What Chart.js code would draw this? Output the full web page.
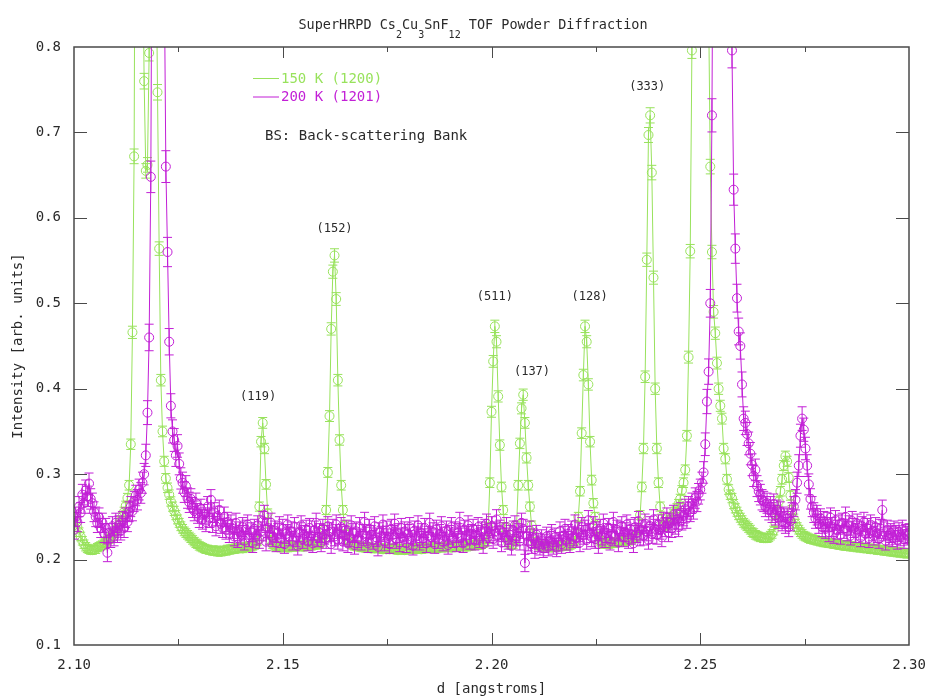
<!DOCTYPE html>
<html><head><meta charset="utf-8">
<script src="https://cdn.jsdelivr.net/npm/chart.js@4.4.1/dist/chart.umd.min.js"></script>
<style>html,body{margin:0;padding:0;background:#fff;overflow:hidden}canvas{display:block}</style>
</head><body>
<canvas id="c" width="927" height="699"></canvas>
<script>
// d-spacing binning of the histogram (angstroms)
const dStart = 2.1;
const dStep = 0.0004;

// 150 K (run 1200) intensities
const int150 = [
0.250,0.245,0.238,0.232,0.227,0.222,0.218,0.215,0.213,0.212,
0.211,0.211,0.212,0.212,0.214,0.215,0.216,0.217,0.219,0.220,
0.222,0.224,0.226,0.228,0.231,0.234,0.237,0.241,0.245,0.250,
0.256,0.263,0.272,0.287,0.335,0.466,0.672,1.25,1.85,1.70,
1.25,0.95,0.76,0.655,0.662,0.793,1.10,1.35,1.20,0.96,
0.747,0.564,0.410,0.350,0.315,0.295,0.284,0.276,0.268,0.262,
0.257,0.252,0.247,0.243,0.239,0.236,0.233,0.231,0.229,0.227,
0.225,0.223,0.221,0.219,0.218,0.216,0.215,0.214,0.213,0.212,
0.212,0.211,0.211,0.210,0.210,0.211,0.209,0.210,0.209,0.210,
0.211,0.210,0.212,0.211,0.212,0.213,0.212,0.213,0.214,0.213,
0.214,0.213,0.215,0.214,0.215,0.216,0.215,0.216,0.217,0.218,
0.222,0.262,0.338,0.360,0.330,0.288,0.254,0.233,0.222,0.218,
0.216,0.215,0.216,0.215,0.214,0.215,0.216,0.215,0.214,0.215,
0.216,0.215,0.216,0.215,0.216,0.217,0.216,0.215,0.216,0.217,
0.216,0.217,0.216,0.217,0.218,0.217,0.218,0.219,0.221,0.225,
0.235,0.258,0.302,0.368,0.470,0.537,0.556,0.505,0.410,0.340,
0.287,0.258,0.240,0.229,0.223,0.220,0.218,0.217,0.216,0.216,
0.215,0.216,0.215,0.214,0.215,0.214,0.215,0.214,0.213,0.214,
0.213,0.214,0.213,0.214,0.213,0.212,0.213,0.212,0.213,0.212,
0.213,0.212,0.213,0.212,0.211,0.212,0.213,0.212,0.211,0.212,
0.212,0.213,0.212,0.213,0.212,0.213,0.214,0.213,0.212,0.213,
0.214,0.213,0.214,0.213,0.214,0.215,0.214,0.213,0.214,0.215,
0.214,0.215,0.214,0.215,0.216,0.215,0.214,0.215,0.216,0.215,
0.216,0.215,0.216,0.217,0.216,0.215,0.216,0.217,0.216,0.217,
0.218,0.217,0.218,0.217,0.218,0.219,0.220,0.224,0.238,0.290,
0.373,0.432,0.473,0.455,0.391,0.334,0.285,0.258,0.238,0.226,
0.220,0.218,0.217,0.218,0.222,0.240,0.287,0.336,0.377,0.393,
0.360,0.319,0.287,0.262,0.240,0.227,0.221,0.218,0.217,0.216,
0.216,0.215,0.216,0.215,0.216,0.215,0.214,0.215,0.216,0.215,
0.216,0.215,0.216,0.217,0.216,0.217,0.216,0.217,0.218,0.219,
0.222,0.230,0.250,0.280,0.348,0.416,0.473,0.455,0.405,0.338,
0.293,0.266,0.250,0.236,0.227,0.222,0.220,0.219,0.218,0.219,
0.218,0.219,0.220,0.219,0.220,0.221,0.220,0.221,0.222,0.221,
0.222,0.223,0.222,0.223,0.224,0.225,0.226,0.228,0.235,0.252,
0.285,0.330,0.414,0.551,0.697,0.720,0.653,0.530,0.400,0.330,
0.290,0.262,0.248,0.240,0.238,0.240,0.243,0.246,0.250,0.253,
0.256,0.260,0.265,0.271,0.281,0.290,0.305,0.345,0.437,0.561,
0.796,1.30,1.90,2.20,2.00,1.60,1.45,1.55,1.70,1.40,
0.85,0.66,0.56,0.49,0.465,0.43,0.40,0.38,0.365,0.33,
0.318,0.294,0.282,0.276,0.272,0.265,0.260,0.256,0.252,0.249,
0.246,0.243,0.241,0.239,0.237,0.235,0.232,0.231,0.229,0.228,
0.227,0.226,0.226,0.225,0.225,0.225,0.226,0.228,0.230,0.234,
0.243,0.256,0.268,0.280,0.294,0.310,0.321,0.315,0.296,0.275,
0.258,0.248,0.242,0.238,0.235,0.232,0.230,0.228,0.227,0.226,
0.225,0.224,0.224,0.223,0.223,0.222,0.222,0.221,0.221,0.220,
0.220,0.220,0.219,0.219,0.219,0.218,0.218,0.218,0.217,0.217,
0.217,0.216,0.216,0.217,0.216,0.215,0.216,0.215,0.215,0.214,
0.215,0.214,0.214,0.213,0.214,0.213,0.213,0.212,0.213,0.212,
0.212,0.211,0.212,0.211,0.211,0.210,0.211,0.210,0.210,0.209,
0.210,0.209,0.209,0.208,0.209,0.208,0.208,0.207,0.208,0.207,
0.207
];

// 200 K (run 1201) intensities
const int200 = [
0.235,0.250,0.244,0.262,0.255,0.276,0.266,0.281,0.274,0.289,
0.271,0.266,0.256,0.250,0.243,0.249,0.237,0.243,0.231,0.237,
0.208,0.231,0.225,0.239,0.227,0.243,0.231,0.240,0.234,0.245,
0.237,0.249,0.244,0.256,0.262,0.257,0.268,0.275,0.270,0.282,
0.278,0.290,0.300,0.322,0.372,0.460,0.648,1.10,1.80,2.30,
2.40,2.10,1.60,1.20,0.90,0.660,0.560,0.455,0.380,0.350,
0.340,0.322,0.333,0.312,0.295,0.290,0.279,0.286,0.272,0.267,
0.271,0.261,0.257,0.266,0.254,0.249,0.259,0.247,0.253,0.244,
0.262,0.249,0.270,0.243,0.255,0.239,0.251,0.258,0.242,0.237,
0.250,0.235,0.244,0.231,0.241,0.236,0.227,0.243,0.225,0.233,
0.229,0.238,0.222,0.235,0.241,0.226,0.232,0.219,0.236,0.228,
0.240,0.224,0.233,0.245,0.252,0.221,0.237,0.229,0.243,0.226,
0.234,0.220,0.231,0.239,0.225,0.236,0.218,0.230,0.241,0.227,
0.233,0.222,0.238,0.226,0.216,0.232,0.240,0.224,0.229,0.235,
0.221,0.237,0.228,0.219,0.234,0.243,0.226,0.231,0.220,0.236,
0.229,0.224,0.239,0.232,0.218,0.236,0.227,0.241,0.223,0.230,
0.238,0.221,0.228,0.235,0.219,0.226,0.240,0.231,0.217,0.233,
0.225,0.238,0.222,0.230,0.244,0.227,0.219,0.236,0.229,0.223,
0.239,0.226,0.215,0.232,0.228,0.241,0.221,0.234,0.225,0.218,
0.236,0.229,0.242,0.224,0.231,0.220,0.237,0.226,0.233,0.219,
0.230,0.238,0.223,0.216,0.234,0.227,0.240,0.222,0.231,0.225,
0.237,0.219,0.228,0.243,0.226,0.232,0.218,0.235,0.224,0.230,
0.239,0.221,0.227,0.234,0.217,0.229,0.238,0.225,0.233,0.220,
0.231,0.244,0.226,0.219,0.235,0.228,0.240,0.223,0.230,0.236,
0.222,0.229,0.238,0.225,0.233,0.218,0.236,0.242,0.227,0.231,
0.239,0.224,0.233,0.247,0.228,0.235,0.220,0.232,0.226,0.238,
0.223,0.229,0.216,0.234,0.240,0.227,0.231,0.222,0.243,0.236,
0.196,0.228,0.221,0.234,0.218,0.225,0.212,0.229,0.220,0.216,
0.224,0.213,0.219,0.227,0.215,0.222,0.230,0.217,0.226,0.214,
0.221,0.233,0.218,0.228,0.236,0.222,0.230,0.219,0.234,0.227,
0.241,0.225,0.232,0.220,0.238,0.229,0.235,0.223,0.246,0.231,
0.226,0.239,0.224,0.233,0.218,0.236,0.228,0.242,0.225,0.231,
0.237,0.222,0.230,0.244,0.227,0.235,0.220,0.233,0.239,0.226,
0.232,0.241,0.224,0.236,0.229,0.219,0.238,0.231,0.245,0.227,
0.235,0.228,0.242,0.233,0.223,0.239,0.230,0.247,0.236,0.229,
0.241,0.235,0.226,0.244,0.238,0.249,0.232,0.243,0.237,0.252,
0.241,0.247,0.238,0.255,0.246,0.251,0.259,0.248,0.262,0.256,
0.266,0.259,0.272,0.268,0.277,0.282,0.290,0.302,0.335,0.385,
0.420,0.500,0.720,1.10,1.70,2.30,2.70,2.80,2.50,2.20,
1.90,1.60,1.30,1.05,0.796,0.633,0.564,0.506,0.467,0.450,
0.405,0.365,0.360,0.347,0.336,0.324,0.311,0.298,0.305,0.286,
0.280,0.276,0.270,0.268,0.262,0.266,0.258,0.262,0.255,0.265,
0.252,0.258,0.248,0.256,0.245,0.250,0.242,0.248,0.238,0.245,
0.255,0.262,0.270,0.290,0.310,0.345,0.365,0.352,0.330,0.310,
0.288,0.271,0.262,0.255,0.248,0.252,0.242,0.248,0.238,0.245,
0.236,0.244,0.232,0.249,0.238,0.230,0.246,0.235,0.241,0.229,
0.243,0.236,0.250,0.233,0.240,0.228,0.245,0.237,0.231,0.242,
0.234,0.226,0.239,0.244,0.230,0.237,0.225,0.241,0.233,0.228,
0.238,0.231,0.224,0.236,0.258,0.233,0.222,0.235,0.228,0.231,
0.226,0.234,0.229,0.223,0.232,0.227,0.235,0.224,0.230,0.228,
0.231
];

// counting-statistics error scale (sigma = k * sqrt(I)) per run
const sigmaK150 = 0.0105;
const sigmaK200 = 0.0229;

// tick values
const xTickValues = [2.10, 2.15, 2.20, 2.25, 2.30];
const yTickValues = [0.1, 0.2, 0.3, 0.4, 0.5, 0.6, 0.7, 0.8];

// Miller-index labels and where they sit (d, intensity)
const peakNames = ['(119)', '(152)', '(511)', '(137)', '(128)', '(333)'];
const peakD     = [2.1441, 2.1624, 2.2008, 2.2097, 2.2235, 2.2373];
const peakI     = [0.390, 0.587, 0.508, 0.420, 0.508, 0.753];

const seriesLabels = ['150 K (1200)', '200 K (1201)'];
const GREEN = '#98e25c';
const MAGENTA = '#c21fd6';
const TEXT = '#2a2a2a';
const MONO = '"DejaVu Sans Mono", "Liberation Mono", monospace';

const dGrid = int150.map((_, i) => +(dStart + i * dStep).toFixed(4));
const toPts = arr => arr.map((v, i) => ({ x: dGrid[i], y: v }));

const errorBars = {
  id: 'errorBars',
  afterDatasetDraw(chart, args) {
    const ds = chart.data.datasets[args.index];
    const meta = args.meta;
    const ys = chart.scales.y, a = chart.chartArea, ctx = chart.ctx;
    const cap = 4.5;
    ctx.save();
    ctx.beginPath();
    ctx.rect(a.left, a.top, a.right - a.left, a.bottom - a.top);
    ctx.clip();
    ctx.strokeStyle = ds.borderColor;
    ctx.lineWidth = 1;
    ctx.beginPath();
    meta.data.forEach((pt, i) => {
      const v = ds.data[i].y;
      const e = ds.sigmaK * Math.sqrt(v);
      const yT = ys.getPixelForValue(v + e), yB = ys.getPixelForValue(v - e);
      const x = pt.x;
      ctx.moveTo(x, yT); ctx.lineTo(x, yB);
      ctx.moveTo(x - cap, yT); ctx.lineTo(x + cap, yT);
      ctx.moveTo(x - cap, yB); ctx.lineTo(x + cap, yB);
    });
    ctx.stroke();
    ctx.restore();
  }
};

const frameTicks = {
  id: 'frameTicks',
  afterDatasetsDraw(chart) {
    const ctx = chart.ctx, a = chart.chartArea;
    const xs = chart.scales.x, ys = chart.scales.y;
    ctx.save();
    ctx.strokeStyle = '#4a4a4a';
    ctx.lineWidth = 1.5;
    ctx.strokeRect(a.left, a.top, a.right - a.left, a.bottom - a.top);
    ctx.lineWidth = 1;
    ctx.beginPath();
    const xt = xs.ticks.map(t => t.value);
    xt.forEach((v, k) => {
      if (k > 0 && k < xt.length - 1) {
        const px = Math.round(xs.getPixelForValue(v)) + 0.5;
        ctx.moveTo(px, a.bottom); ctx.lineTo(px, a.bottom - 12);
        ctx.moveTo(px, a.top); ctx.lineTo(px, a.top + 11);
      }
      if (k < xt.length - 1) {
        const pm = Math.round(xs.getPixelForValue((v + xt[k + 1]) / 2)) + 0.5;
        ctx.moveTo(pm, a.bottom); ctx.lineTo(pm, a.bottom - 6);
        ctx.moveTo(pm, a.top); ctx.lineTo(pm, a.top + 5);
      }
    });
    const yt = ys.ticks.map(t => t.value);
    yt.forEach((v, k) => {
      if (k > 0 && k < yt.length - 1) {
        const py = Math.round(ys.getPixelForValue(v)) + 0.5;
        ctx.moveTo(a.left, py); ctx.lineTo(a.left + 13, py);
        ctx.moveTo(a.right, py); ctx.lineTo(a.right - 13, py);
      }
    });
    ctx.stroke();
    ctx.restore();
  }
};

const annotations = {
  id: 'annotations',
  afterDraw(chart) {
    const ctx = chart.ctx, a = chart.chartArea;
    const xs = chart.scales.x, ys = chart.scales.y;
    ctx.save();
    // title with subscripts
    const parts = [['SuperHRPD Cs', 0], ['2', 1], ['Cu', 0], ['3', 1], ['SnF', 0], ['12', 1], [' TOF Powder Diffraction', 0]];
    const fMain = '13.5px ' + MONO, fSub = '10px ' + MONO;
    let total = 0;
    parts.forEach(p => { ctx.font = p[1] ? fSub : fMain; total += ctx.measureText(p[0]).width; });
    let x = 473 - total / 2;
    ctx.fillStyle = TEXT;
    ctx.textBaseline = 'alphabetic';
    ctx.textAlign = 'left';
    parts.forEach(p => {
      ctx.font = p[1] ? fSub : fMain;
      ctx.fillText(p[0], x, p[1] ? 37.5 : 29);
      x += ctx.measureText(p[0]).width;
    });
    // legend
    ctx.font = '14px ' + MONO;
    ctx.textBaseline = 'middle';
    const ds = chart.data.datasets;
    const lx0 = a.left + 179, lx1 = a.left + 205, ly0 = a.top + 31.5, lstep = 18.5;
    ds.forEach((d, k) => {
      const y = ly0 + k * lstep;
      ctx.strokeStyle = d.borderColor;
      ctx.lineWidth = 1;
      ctx.beginPath(); ctx.moveTo(lx0, y); ctx.lineTo(lx1, y); ctx.stroke();
      ctx.fillStyle = d.borderColor;
      ctx.fillText(d.label, lx1 + 2, y + 0.5);
    });
    ctx.fillStyle = TEXT;
    ctx.fillText('BS: Back-scattering Bank', a.left + 191, a.top + 89.5);
    // peak labels
    ctx.font = '12px ' + MONO;
    ctx.textAlign = 'center';
    peakNames.forEach((n, k) => {
      ctx.fillText(n, xs.getPixelForValue(peakD[k]), ys.getPixelForValue(peakI[k]));
    });
    ctx.restore();
  }
};

const tickFont = { family: MONO, size: 14 };

new Chart(document.getElementById('c'), {
  type: 'line',
  data: {
    datasets: [
      { label: seriesLabels[0], data: toPts(int150), sigmaK: sigmaK150,
        borderColor: GREEN, borderWidth: 1, pointRadius: 4.5, pointBorderWidth: 1,
        pointBorderColor: GREEN, pointBackgroundColor: 'rgba(0,0,0,0)', tension: 0, order: 2 },
      { label: seriesLabels[1], data: toPts(int200), sigmaK: sigmaK200,
        borderColor: MAGENTA, borderWidth: 1, pointRadius: 4.5, pointBorderWidth: 1,
        pointBorderColor: MAGENTA, pointBackgroundColor: 'rgba(0,0,0,0)', tension: 0, order: 1 }
    ]
  },
  options: {
    responsive: false,
    animation: false,
    devicePixelRatio: 1,
    layout: { padding: { top: 47, right: 18, bottom: 0, left: 0 } },
    plugins: { legend: { display: false }, tooltip: { enabled: false }, title: { display: false } },
    scales: {
      x: {
        type: 'linear', min: xTickValues[0], max: xTickValues[xTickValues.length - 1],
        afterBuildTicks: s => { s.ticks = xTickValues.map(v => ({ value: v })); },
        ticks: { callback: v => v.toFixed(2), font: tickFont, color: TEXT, padding: 12, maxRotation: 0, autoSkip: false },
        grid: { display: false, drawTicks: false, tickLength: 0 },
        border: { display: false },
        title: { display: true, text: 'd [angstroms]', font: tickFont, color: TEXT, padding: { top: 0, bottom: 1 } },
        afterFit: s => { s.height = 54; s.paddingLeft = 0; s.paddingRight = 0; }
      },
      y: {
        type: 'linear', min: yTickValues[0], max: yTickValues[yTickValues.length - 1],
        afterBuildTicks: s => { s.ticks = yTickValues.map(v => ({ value: v })); },
        ticks: { callback: v => v.toFixed(1), font: tickFont, color: TEXT, padding: 13 },
        grid: { display: false, drawTicks: false, tickLength: 0 },
        border: { display: false },
        title: { display: true, text: 'Intensity [arb. units]', font: tickFont, color: TEXT, padding: { top: 10, bottom: 0 } },
        afterFit: s => { s.width = 74; s.paddingTop = 0; s.paddingBottom = 0; }
      }
    }
  },
  plugins: [errorBars, frameTicks, annotations]
});
</script>
</body></html>
